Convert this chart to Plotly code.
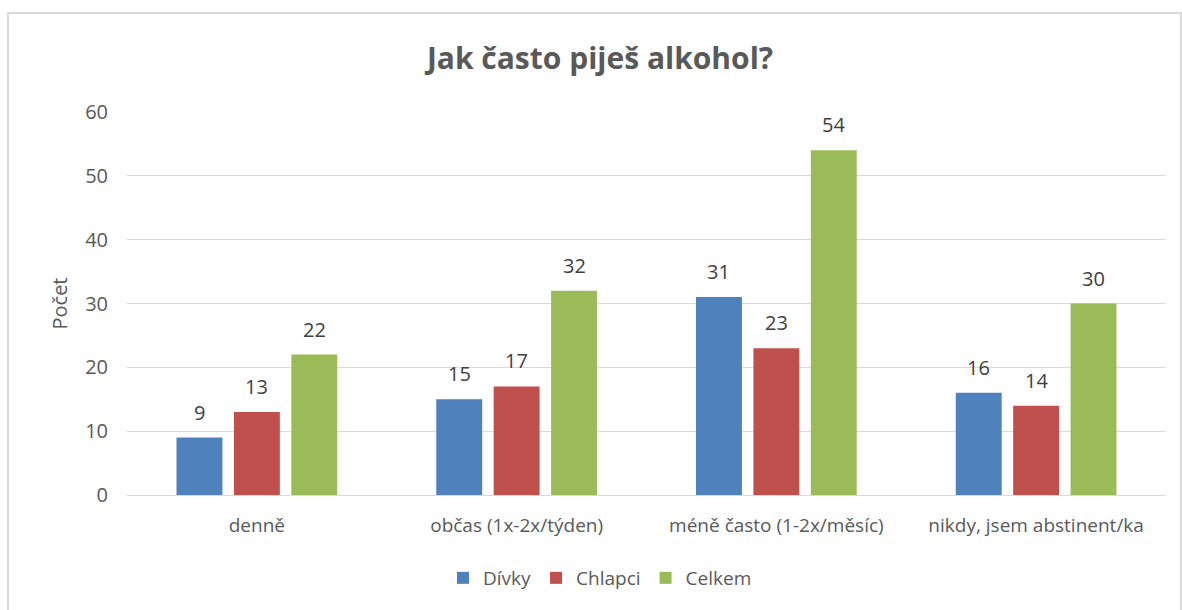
import plotly.graph_objects as go

categories = ["denně", "občas (1x-2x/týden)", "méně často (1-2x/měsíc)", "nikdy, jsem abstinent/ka"]
divky = [9, 15, 31, 16]
chlapci = [13, 17, 23, 14]
celkem = [22, 32, 54, 30]

series = [
    ("Dívky", divky, "#4f81bd"),
    ("Chlapci", chlapci, "#c0504d"),
    ("Celkem", celkem, "#9bbb59"),
]

FONT = "'Open Sans', Lato, sans-serif"
TEXT = "#595959"

fig = go.Figure()
for name, vals, color in series:
    fig.add_trace(go.Bar(
        name=name, x=categories, y=vals,
        marker=dict(color=color, line=dict(width=0)),
    ))

# value labels above each bar
slot = 57.5
annotations = []
for i, (name, vals, color) in enumerate(series):
    for cat, v in zip(categories, vals):
        annotations.append(dict(
            x=cat, y=v, xref="x", yref="y", text=str(v), showarrow=False,
            xanchor="center", yanchor="bottom", xshift=(i - 1) * slot, yshift=10,
            font=dict(family=FONT, size=20, color="#404040"),
        ))

L, R, T, B = 127, 16, 112, 115
W, H = 1182, 610
pw, ph = W - L - R, H - T - B

def px_x(p):
    return (p - L) / pw

def px_y(p):
    return (H - B - p) / ph

fig.update_layout(
    width=W, height=H,
    margin=dict(l=L, r=R, t=T, b=B),
    paper_bgcolor="white", plot_bgcolor="white",
    barmode="group", bargap=0.337, bargroupgap=0.2,
    font=dict(family=FONT, color=TEXT),
    title=dict(
        text="<b>Jak často piješ alkohol?</b>",
        x=px_x(600), xanchor="center", xref="paper",
        y=1 - 58 / H, yanchor="middle",
        font=dict(family=FONT, size=30, color=TEXT),
    ),
    xaxis=dict(
        showgrid=False, showline=True, linecolor="#d9d9d9", linewidth=1,
        tickfont=dict(family=FONT, size=19, color=TEXT),
        ticklabelstandoff=13, zeroline=False,
    ),
    yaxis=dict(
        range=[0, 60], dtick=10, showgrid=True, gridcolor="#d9d9d9", gridwidth=1,
        zeroline=False, showline=False,
        tickfont=dict(family=FONT, size=20, color=TEXT),
        ticklabelstandoff=18,
        title=dict(text="Počet", font=dict(family=FONT, size=20, color=TEXT), standoff=12),
    ),
    legend=dict(
        orientation="h", x=px_x(600), xanchor="center", y=px_y(578), yanchor="middle",
        font=dict(family=FONT, size=19, color=TEXT),
        itemwidth=30, traceorder="normal",
    ),
    annotations=annotations,
    shapes=[dict(
        type="rect", xref="paper", yref="paper",
        x0=px_x(8), x1=px_x(1181), y0=px_y(640), y1=px_y(13),
        line=dict(color="#d9d9d9", width=2), fillcolor="rgba(0,0,0,0)", layer="below",
    )],
)

fig.write_html("out.html")
